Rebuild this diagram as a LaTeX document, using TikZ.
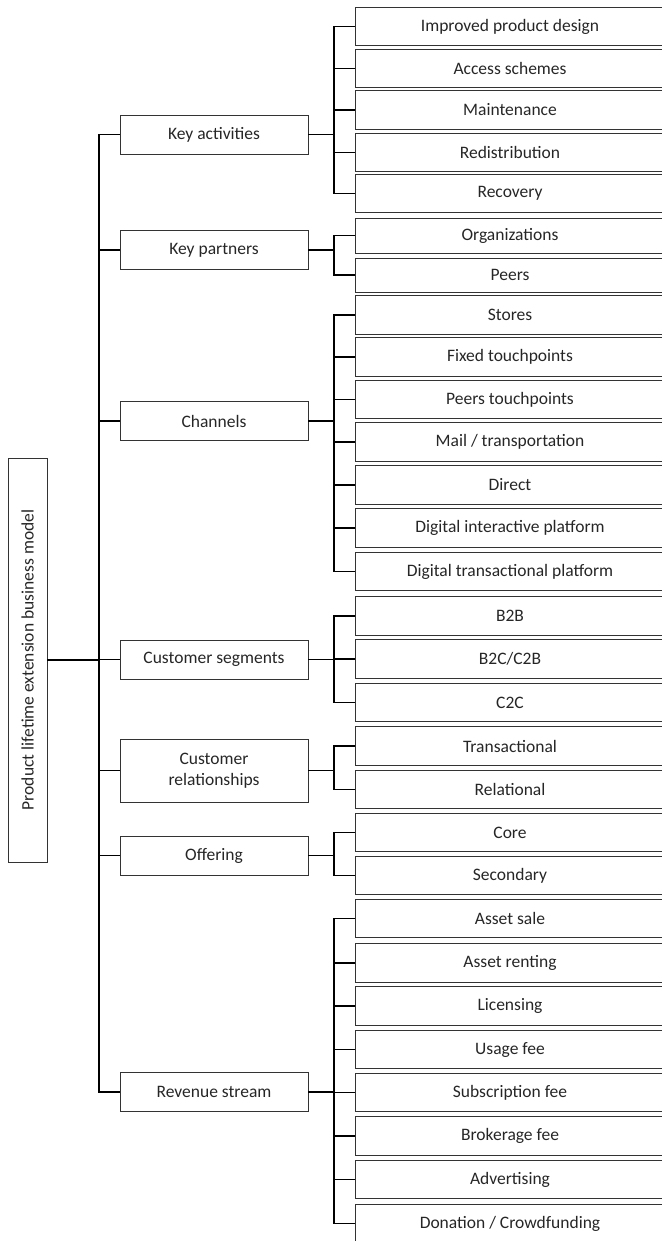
\documentclass[tikz,border=0pt]{standalone}
\usepackage{fontspec}
\setmainfont{Carlito}
\usepackage{tikz}

\tikzset{
  box/.style={draw=black!80, line width=0.9pt, inner sep=0pt, align=center,
    font=\fontsize{17.5}{21}\selectfont, text=black!85},
  leaf/.style={box, minimum width=310, minimum height=38.5},
  cat/.style={box, minimum width=188, minimum height=39},
  link/.style={draw=black, line width=1.6pt, line cap=rect},
}

\begin{document}
\begin{tikzpicture}[x=1pt, y=-1pt]
  \useasboundingbox (0,0) rectangle (661,1241);

  % root
  \node[box, minimum width=39, minimum height=404] (root) at (27.5,660)
    {\rotatebox{90}{Product lifetime extension business model}};

  % categories
  \node[cat] (ka)  at (214,134.5) {Key activities};
  \node[cat] (kp)  at (214,250)   {Key partners};
  \node[cat] (ch)  at (214,421)   {Channels};
  \node[cat] (cs)  at (214,659.5) {Customer segments};
  \node[cat, minimum height=63] (cr) at (214,770.5) {Customer\\relationships};
  \node[cat] (off) at (214,855.5) {Offering};
  \node[cat] (rs)  at (214,1092)  {Revenue stream};

  % leaves
  \node[leaf] (design) at (510,26.5)  {Improved product design};
  \node[leaf] (access) at (510,68.5)  {Access schemes};
  \node[leaf] (maint)  at (510,110)   {Maintenance};
  \node[leaf] (redis)  at (510,152.5) {Redistribution};
  \node[leaf] (recov)  at (510,193.5) {Recovery};
  \node[leaf, minimum height=35] (orgs)  at (510,235.5) {Organizations};
  \node[leaf, minimum height=34] (peers) at (510,275)   {Peers};
  \node[leaf] (stores) at (510,315)   {Stores};
  \node[leaf] (fixed)  at (510,357)   {Fixed touchpoints};
  \node[leaf] (peertp) at (510,399.5) {Peers touchpoints};
  \node[leaf] (mail)   at (510,442)   {Mail / transportation};
  \node[leaf] (direct) at (510,485)   {Direct};
  \node[leaf] (digint) at (510,528)   {Digital interactive platform};
  \node[leaf] (digtr)  at (510,571.5) {Digital transactional platform};
  \node[leaf] (btob)   at (510,616)   {B2B};
  \node[leaf] (btoc)   at (510,659)   {B2C/C2B};
  \node[leaf] (ctoc)   at (510,702.5) {C2C};
  \node[leaf] (trans)  at (510,746)   {Transactional};
  \node[leaf] (rel)    at (510,789.5) {Relational};
  \node[leaf] (core)   at (510,832.5) {Core};
  \node[leaf] (second) at (510,875.5) {Secondary};
  \node[leaf] (sale)   at (510,918.5) {Asset sale};
  \node[leaf] (rent)   at (510,963)   {Asset renting};
  \node[leaf] (lic)    at (510,1006)  {Licensing};
  \node[leaf] (usage)  at (510,1049.5) {Usage fee};
  \node[leaf] (subs)   at (510,1092.5) {Subscription fee};
  \node[leaf] (broker) at (510,1136)  {Brokerage fee};
  \node[leaf] (advert) at (510,1179.5) {Advertising};
  \node[leaf] (donat)  at (510,1223.5) {Donation / Crowdfunding};

  % trunk
  \coordinate (trunk) at (99,0);
  \coordinate (brk) at (334,0);
  \draw[link] (root.east) -- (root.east -| trunk);
  \draw[link] (ka.west -| trunk) -- (rs.west -| trunk);
  \foreach \c in {ka,kp,ch,cs,cr,off,rs}
    \draw[link] (\c.west -| trunk) -- (\c.west);

  % brackets
  \foreach \c in {ka,kp,ch,cs,cr,off,rs}
    \draw[link] (\c.east) -- (\c.east -| brk);
  \foreach \a/\b in {design/recov, orgs/peers, stores/digtr, btob/ctoc,
                     trans/rel, core/second, sale/donat}
    \draw[link] (\a.west -| brk) -- (\b.west -| brk);
  \foreach \l in {design,access,maint,redis,recov,orgs,peers,stores,fixed,
                  peertp,mail,direct,digint,digtr,btob,btoc,ctoc,trans,rel,
                  core,second,sale,rent,lic,usage,subs,broker,advert,donat}
    \draw[link] (\l.west -| brk) -- (\l.west);
\end{tikzpicture}
\end{document}
